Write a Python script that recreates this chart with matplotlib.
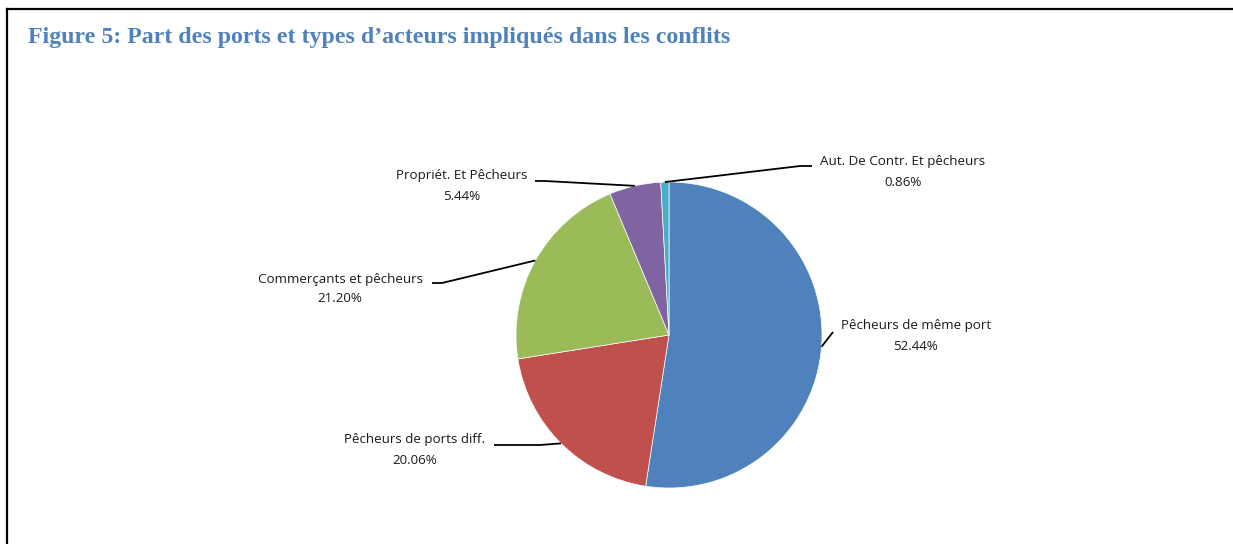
import numpy as np
import matplotlib.pyplot as plt
from matplotlib.lines import Line2D

labels = [
    'Pêcheurs de même port',
    'Pêcheurs de ports diff.',
    'Commerçants et pêcheurs',
    'Propriét. Et Pêcheurs',
    'Aut. De Contr. Et pêcheurs'
]
shares = [52.44, 20.06, 21.20, 5.44, 0.86]
colors = ['#4F81BD', '#C0504D', '#9BBB59', '#8064A2', '#4BACC6']

W, H = 1233, 544
fig = plt.figure(figsize=(W / 100, H / 100), dpi=100)
ax = fig.add_axes([0, 0, 1, 1])

cx, cy, r = 669, H - 335, 153
wedges, _ = ax.pie(shares, colors=colors, startangle=90, counterclock=False,
                   center=(cx, cy), radius=r,
                   wedgeprops=dict(edgecolor='white', linewidth=0.5))
ax.set_xlim(0, W)
ax.set_ylim(0, H)
ax.set_aspect('equal')
ax.axis('off')

# label layout in pixels from top: text centre, leader points after the edge
layout = [
    ((916, 336), [(833, 332)]),
    ((415, 450), [(540, 445), (494, 445)]),
    ((340, 289), [(442, 283), (432, 283)]),
    ((462, 186), [(545, 181), (535, 181)]),
    ((903, 172), [(800, 166), (812, 166)]),
]

for w, lab, pct, (tpos, pts) in zip(wedges, labels, shares, layout):
    mid = np.deg2rad((w.theta1 + w.theta2) / 2)
    ex, ey = cx + r * np.cos(mid), cy + r * np.sin(mid)
    xs = [ex] + [p[0] for p in pts]
    ys = [ey] + [H - p[1] for p in pts]
    ax.plot(xs, ys, color='black', lw=1.3, solid_capstyle='butt')
    ax.text(tpos[0], H - tpos[1], f"{lab}\n{pct:.2f}%", ha='center', va='center',
            multialignment='center', fontsize=9.6, family='Open Sans',
            linespacing=1.7, color='#1a1a1a')

fig.text(28 / W, 1 - 37 / H,
         "Figure 5: Part des ports et types d\u2019acteurs impliqués dans les conflits",
         family='Liberation Serif', fontweight='bold', fontsize=17.2,
         color='#4F81BD', va='center', ha='left')

# frame around the figure (top and left visible)
fig.add_artist(Line2D([7 / W, 1], [1 - 9 / H, 1 - 9 / H], color='black', lw=1.6,
                      transform=fig.transFigure))
fig.add_artist(Line2D([7 / W, 7 / W], [1 - 9 / H, 0], color='black', lw=1.6,
                      transform=fig.transFigure))

plt.savefig('out.png', dpi=100)
